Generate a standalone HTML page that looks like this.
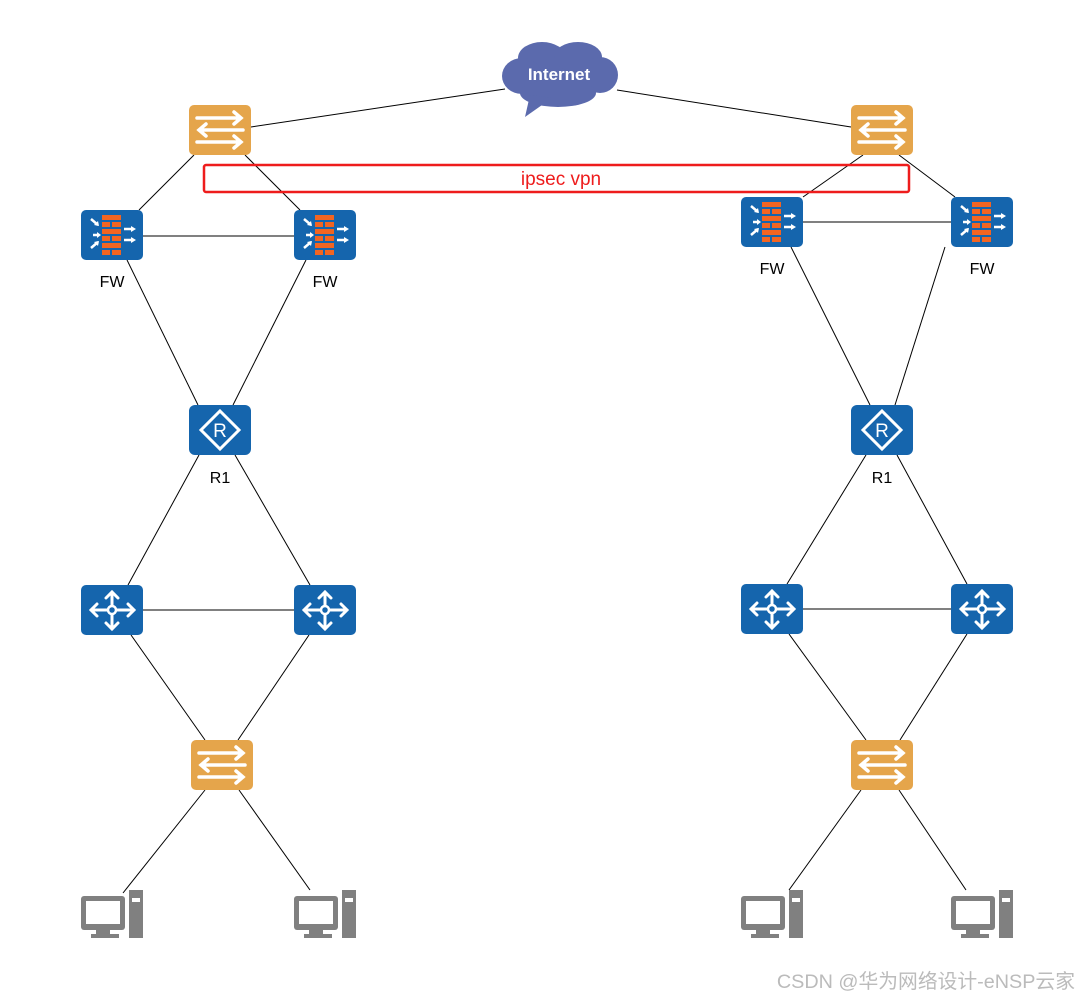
<!DOCTYPE html>
<html><head><meta charset="utf-8"><style>
html,body{margin:0;padding:0;background:#fff;width:1079px;height:998px;overflow:hidden}
svg{display:block}
text{font-family:"Liberation Sans","Noto Sans CJK SC",sans-serif}
</style></head><body>
<svg width="1079" height="998" viewBox="0 0 1079 998" xmlns="http://www.w3.org/2000/svg">
<defs>
<g id="sw">
<rect x="0" y="0" width="62" height="50" rx="5" fill="#e5a54b"/>
<g stroke="#fff" stroke-width="3.5" fill="none" stroke-linecap="round">
<path d="M8 13H52M45 7L52 13L45 19"/>
<path d="M54 25H10M17 19L10 25L17 31"/>
<path d="M8 37H52M45 31L52 37L45 43"/>
</g></g>
<g id="fw">
<rect x="0" y="0" width="62" height="50" rx="5" fill="#1565ad"/>
<g fill="#f26522">
<rect x="21" y="5" width="19" height="5"/>
<rect x="21" y="12" width="8" height="5"/><rect x="31" y="12" width="9" height="5"/>
<rect x="21" y="19" width="19" height="5"/>
<rect x="21" y="26" width="8" height="5"/><rect x="31" y="26" width="9" height="5"/>
<rect x="21" y="33" width="19" height="5"/>
<rect x="21" y="40" width="8" height="5"/><rect x="31" y="40" width="9" height="5"/>
</g>
<g stroke="#fff" stroke-width="2.5" fill="none">
<path d="M10 9L17 15M12 25H18M10 38L17 32M43 19H52M43 30H52"/>
</g>
<g fill="#fff">
<path d="M18 16L13 15L17 11Z"/><path d="M20 25L16 22V28Z"/><path d="M18 31L13 32L17 36Z"/>
<path d="M55 19L50 16V22Z"/><path d="M55 30L50 27V33Z"/>
</g></g>
<g id="rt">
<rect x="0" y="0" width="62" height="50" rx="6" fill="#1565ad"/>
<path d="M31 6L50 25L31 44L12 25Z" fill="none" stroke="#fff" stroke-width="3"/>
<text x="31" y="32" font-size="19" fill="#fff" text-anchor="middle">R</text>
</g>
<g id="l3">
<rect x="0" y="0" width="62" height="50" rx="5" fill="#1565ad"/>
<g stroke="#fff" stroke-width="3" fill="none" stroke-linecap="round">
<path d="M31 25V7M25 13L31 7L37 13"/>
<path d="M31 25H53M47 19L53 25L47 31"/>
<path d="M31 25V44M25 38L31 44L37 38"/>
<path d="M31 25H10M16 19L10 25L16 31"/>
</g>
<circle cx="31" cy="25" r="4" fill="#1565ad" stroke="#fff" stroke-width="2.5"/>
</g>
<g id="pc" fill="#808080">
<rect x="48" y="0" width="14" height="48"/>
<rect x="0" y="6" width="44" height="34" rx="3"/>
<rect x="5" y="11" width="34" height="23" fill="#fff"/>
<rect x="15" y="40" width="14" height="4"/>
<rect x="10" y="44" width="28" height="4"/>
<rect x="51" y="8" width="8" height="4" fill="#fff"/>
</g>
</defs>
<g stroke="#000" stroke-width="1" fill="none">
<line x1="251" y1="127" x2="505" y2="89"/>
<line x1="617" y1="90" x2="851" y2="127"/>
<line x1="194" y1="155" x2="139" y2="210"/>
<line x1="245" y1="155" x2="300" y2="210"/>
<line x1="143" y1="236" x2="294" y2="236"/>
<line x1="127" y1="260" x2="198" y2="405"/>
<line x1="306" y1="260" x2="233" y2="405"/>
<line x1="199" y1="455" x2="128" y2="585"/>
<line x1="235" y1="455" x2="310" y2="585"/>
<line x1="143" y1="610" x2="294" y2="610"/>
<line x1="131" y1="635" x2="205" y2="740"/>
<line x1="309" y1="635" x2="238" y2="740"/>
<line x1="205" y1="790" x2="123" y2="893"/>
<line x1="239" y1="790" x2="310" y2="890"/>
<line x1="863" y1="155" x2="803" y2="197"/>
<line x1="899" y1="155" x2="955" y2="197"/>
<line x1="803" y1="222" x2="951" y2="222"/>
<line x1="791" y1="247" x2="870" y2="405"/>
<line x1="945" y1="247" x2="895" y2="405"/>
<line x1="866" y1="455" x2="787" y2="584"/>
<line x1="897" y1="455" x2="967" y2="584"/>
<line x1="803" y1="609" x2="951" y2="609"/>
<line x1="789" y1="634" x2="866" y2="740"/>
<line x1="967" y1="634" x2="900" y2="740"/>
<line x1="861" y1="790" x2="789" y2="890"/>
<line x1="899" y1="790" x2="966" y2="890"/>
</g>
<g fill="#5b6aad">
<ellipse cx="560" cy="74" rx="54" ry="24"/>
<ellipse cx="542" cy="58" rx="24" ry="16"/>
<ellipse cx="578" cy="57" rx="24" ry="15"/>
<ellipse cx="522" cy="76" rx="20" ry="18"/>
<ellipse cx="600" cy="75" rx="18" ry="18"/>
<ellipse cx="558" cy="93" rx="38" ry="14"/>
<path d="M530 95L525 117L552 98Z"/>
</g>
<text x="559" y="80" font-size="17" font-weight="bold" fill="#fff" text-anchor="middle">Internet</text>
<use href="#sw" x="189" y="105"/>
<use href="#sw" x="851" y="105"/>
<use href="#fw" x="81" y="210"/>
<use href="#fw" x="294" y="210"/>
<use href="#fw" x="741" y="197"/>
<use href="#fw" x="951" y="197"/>
<use href="#rt" x="189" y="405"/>
<use href="#rt" x="851" y="405"/>
<use href="#l3" x="81" y="585"/>
<use href="#l3" x="294" y="585"/>
<use href="#l3" x="741" y="584"/>
<use href="#l3" x="951" y="584"/>
<use href="#sw" x="191" y="740"/>
<use href="#sw" x="851" y="740"/>
<use href="#pc" x="81" y="890"/>
<use href="#pc" x="294" y="890"/>
<use href="#pc" x="741" y="890"/>
<use href="#pc" x="951" y="890"/>
<rect x="204" y="165" width="705" height="27" rx="2" fill="none" stroke="#ee1c1c" stroke-width="2.5"/>
<text x="561" y="185" font-size="19" fill="#ee1c1c" text-anchor="middle">ipsec vpn</text>
<g font-size="16" fill="#000" text-anchor="middle">
<text x="112" y="287">FW</text>
<text x="325" y="287">FW</text>
<text x="772" y="274">FW</text>
<text x="982" y="274">FW</text>
<text x="220" y="483">R1</text>
<text x="882" y="483">R1</text>
</g>
<text x="1075" y="988" font-size="19.8" fill="#bbbbbb" text-anchor="end">CSDN @华为网络设计-eNSP云家</text>
</svg>
</body></html>
